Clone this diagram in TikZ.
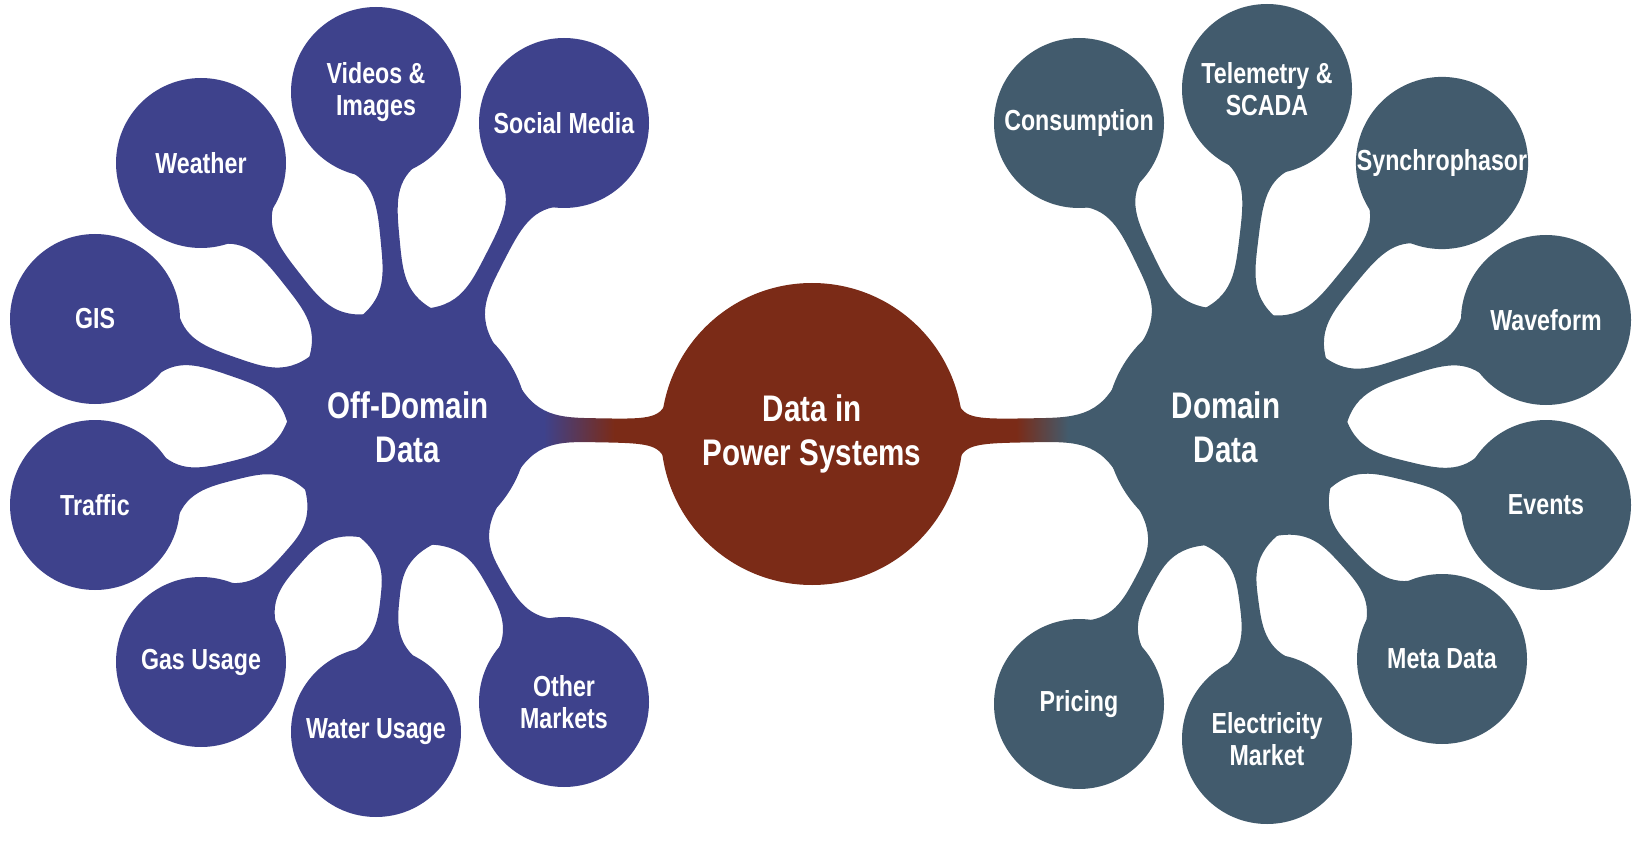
\documentclass[tikz,border=0pt]{standalone}
\usepackage{fontspec}
\setmainfont{Liberation Sans}[FakeStretch=0.8]
\usetikzlibrary{calc,backgrounds}
\definecolor{offc}{HTML}{3E428C}
\definecolor{domc}{HTML}{425B6D}
\definecolor{corec}{HTML}{7B2B17}
\pgfdeclarehorizontalshading{bluered}{100bp}{color(0bp)=(offc); color(35bp)=(offc); color(58bp)=(corec); color(100bp)=(corec)}
\pgfdeclarehorizontalshading{redslate}{100bp}{color(0bp)=(corec); color(43bp)=(corec); color(59bp)=(domc); color(100bp)=(domc)}
\tikzset{
  sat/.style={circle, minimum size=170pt, inner sep=0pt, align=center, text=white,
    font=\fontsize{29}{32}\selectfont\bfseries},
  offsat/.style={sat, fill=offc},
  domsat/.style={sat, fill=domc},
  hubnode/.style={circle, minimum size=240pt, inner sep=0pt, align=center, text=white,
    font=\fontsize{37}{44}\selectfont\bfseries},
  corenode/.style={circle, minimum size=302pt, inner sep=0pt, align=center, text=white,
    fill=corec, font=\fontsize{37}{44}\selectfont\bfseries},
}
% connector parameters: radii, fillet angles, near/far control distances, neck half width
\def\bRa{118pt}\def\bRb{83pt}
\def\bAa{26}\def\bAb{28}
\def\bNa{8pt}\def\bFa{32pt}
\def\bNb{6pt}\def\bFb{30pt}
\def\blobneck{9.5pt}
% #1 options, #2 from, #3 to
\newcommand\blobconn[3]{%
  \coordinate (ba) at ($(#2)!\bRa!(#3)$);
  \coordinate (bb) at ($(#3)!\bRb!(#2)$);
  \path[#1] ($(#2)!\bRa!\bAa:(#3)$)
    .. controls ($(ba)!\bNa!(bb)!\blobneck!90:(bb)$) and ($(ba)!\bFa!(bb)!\blobneck!90:(bb)$)
    .. ($(ba)!0.5!(bb)!\blobneck!90:(bb)$)
    .. controls ($(bb)!\bFb!(ba)!\blobneck!-90:(ba)$) and ($(bb)!\bNb!(ba)!\blobneck!-90:(ba)$)
    .. ($(#3)!\bRb!-\bAb:(#2)$)
    -- ($(#3)!\bRb!\bAb:(#2)$)
    .. controls ($(bb)!\bNb!(ba)!\blobneck!90:(ba)$) and ($(bb)!\bFb!(ba)!\blobneck!90:(ba)$)
    .. ($(ba)!0.5!(bb)!\blobneck!-90:(bb)$)
    .. controls ($(ba)!\bFa!(bb)!\blobneck!-90:(bb)$) and ($(ba)!\bNa!(bb)!\blobneck!-90:(bb)$)
    .. ($(#2)!\bRa!-\bAa:(#3)$)
    -- cycle;
}
\begin{document}
\begin{tikzpicture}[x=1pt,y=-1pt]
\useasboundingbox (0,0) rectangle (1633,842);
% centre and hubs
\node[corenode] (core) at (812,434) {Data in\\Power Systems};
\node[hubnode, fill=offc] (hubL) at (408,427) {Off-Domain\\Data};
\node[hubnode, fill=domc] (hubR) at (1226,427) {Domain\\Data};
% off-domain satellites
\node[offsat] (vid) at (376,92)  {Videos \&\\Images};
\node[offsat] (soc) at (564,123) {Social Media};
\node[offsat] (wea) at (201,163) {Weather};
\node[offsat] (gis) at (95,319)  {GIS};
\node[offsat] (tra) at (95,505)  {Traffic};
\node[offsat] (gas) at (201,662) {Gas Usage};
\node[offsat] (wat) at (376,732) {Water Usage};
\node[offsat] (oth) at (564,702) {Other\\Markets};
% domain satellites
\node[domsat] (con) at (1079,123) {Consumption};
\node[domsat] (tel) at (1267,89)  {Telemetry \&\\SCADA};
\node[domsat] (syn) at (1442,163) {Synchrophasor};
\node[domsat] (wav) at (1546,320) {Waveform};
\node[domsat] (eve) at (1546,505) {Events};
\node[domsat] (met) at (1442,659) {Meta Data};
\node[domsat] (ele) at (1267,739) {Electricity\\Market};
\node[domsat] (pri) at (1079,704) {Pricing};
\begin{pgfonlayer}{background}
  \foreach \s in {vid,soc,wea,gis,tra,gas,wat,oth}{
    \blobconn{fill=offc}{hubL}{\s}
  }
  \foreach \s in {con,tel,syn,wav,eve,met,ele,pri}{
    \blobconn{fill=domc}{hubR}{\s}
  }
  \def\blobneck{12pt}
  \def\bRa{118pt}\def\bRb{149pt}\def\bAa{26}\def\bAb{12}
  \def\bNa{8pt}\def\bFa{34pt}\def\bNb{3pt}\def\bFb{16pt}
  \blobconn{shade,shading=bluered}{hubL}{core}
  \def\bRa{149pt}\def\bRb{118pt}\def\bAa{12}\def\bAb{26}
  \def\bNa{3pt}\def\bFa{16pt}\def\bNb{8pt}\def\bFb{34pt}
  \blobconn{shade,shading=redslate}{core}{hubR}
\end{pgfonlayer}
\end{tikzpicture}
\end{document}
